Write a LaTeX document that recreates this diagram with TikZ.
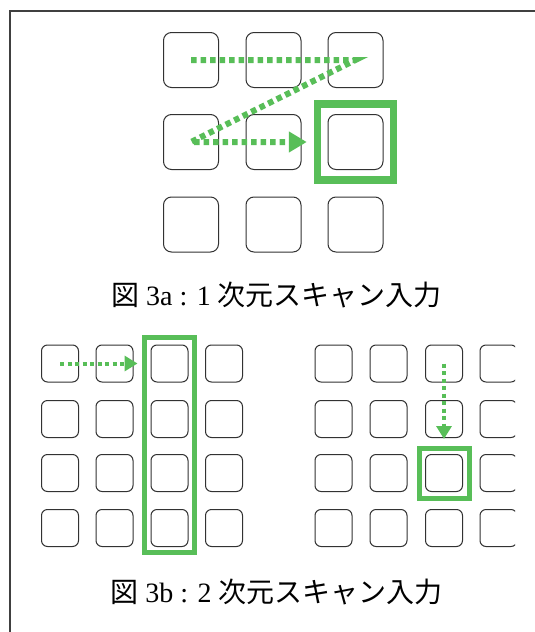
\documentclass[tikz,border=0pt]{standalone}
\usepackage{fontspec}
\setmainfont{Liberation Serif}
\newfontfamily\jp{Noto Sans CJK JP}
\usetikzlibrary{arrows.meta}
\definecolor{scangreen}{RGB}{88,190,88}
\definecolor{cellgray}{RGB}{50,50,50}
\begin{document}
\begin{tikzpicture}[x=1pt,y=-1pt,
  bigcell/.style={draw=cellgray,line width=1pt,rounded corners=8pt,minimum size=55pt,inner sep=0pt},
  smallcell/.style={draw=cellgray,line width=1pt,rounded corners=6pt,minimum size=37pt,inner sep=0pt},
  hlbox/.style={draw=scangreen,inner sep=0pt},
  bigscan/.style={draw=scangreen,line width=6pt,dash pattern=on 5.5pt off 4pt,
    -{Triangle[length=18pt,width=20pt]}},
  smallscan/.style={draw=scangreen,line width=4pt,dash pattern=on 4pt off 3.5pt,
    -{Triangle[length=13pt,width=15pt]}},
  captext/.style={anchor=base,inner sep=0pt,font=\fontsize{28}{32}\selectfont}]
\useasboundingbox (0,0) rectangle (535,632);
\fill[white] (0,0) rectangle (535,632);
% frame
\draw[line width=2pt,draw=black!75] (10,632) -- (10,11) -- (535,11);

% ---- Fig 3a ----
\foreach \r/\y in {1/60,2/142,3/224.5}
  \foreach \c/\x in {1/191,2/273.5,3/355.5}
    \node[bigcell] (a\r\c) at (\x,\y) {};
\node[hlbox,line width=7.5pt,minimum size=76pt] (ahl) at (a23) {};
\draw[bigscan,shorten >=7pt] (a11.center) -- (a13.center) -- (a21.center) -- (ahl.west);
\node[captext] (capa) at (276.5,305) {{\jp 図} 3a : 1 {\jp 次元スキャン入力}};

% ---- Fig 3b left ----
\foreach \r/\y in {1/363.5,2/419,3/473,4/528}
  \foreach \c/\x in {1/60,2/114.5,3/169.5,4/224}
    \node[smallcell] (b\r\c) at (\x,\y) {};
\node[hlbox,line width=5pt,minimum width=50pt,minimum height=215pt] (bhl) at (169.5,445) {};
\draw[smallscan,shorten >=4.5pt] (b11.center) -- (bhl.west |- b11.center);

% ---- Fig 3b right ----
\begin{scope}
\clip (0,0) rectangle (515,632);
\foreach \r/\y in {1/363.5,2/419,3/473,4/528}
  \foreach \c/\x in {1/333.5,2/388.5,3/444,4/498.5}
    \node[smallcell] (c\r\c) at (\x,\y) {};
\end{scope}
\node[hlbox,line width=5pt,minimum size=50pt] (chl) at (c33) {};
\draw[smallscan,shorten >=6.5pt] (c13.center) -- (chl.north);

\node[captext] (capb) at (276.5,602) {{\jp 図} 3b : 2 {\jp 次元スキャン入力}};
\end{tikzpicture}
\end{document}
